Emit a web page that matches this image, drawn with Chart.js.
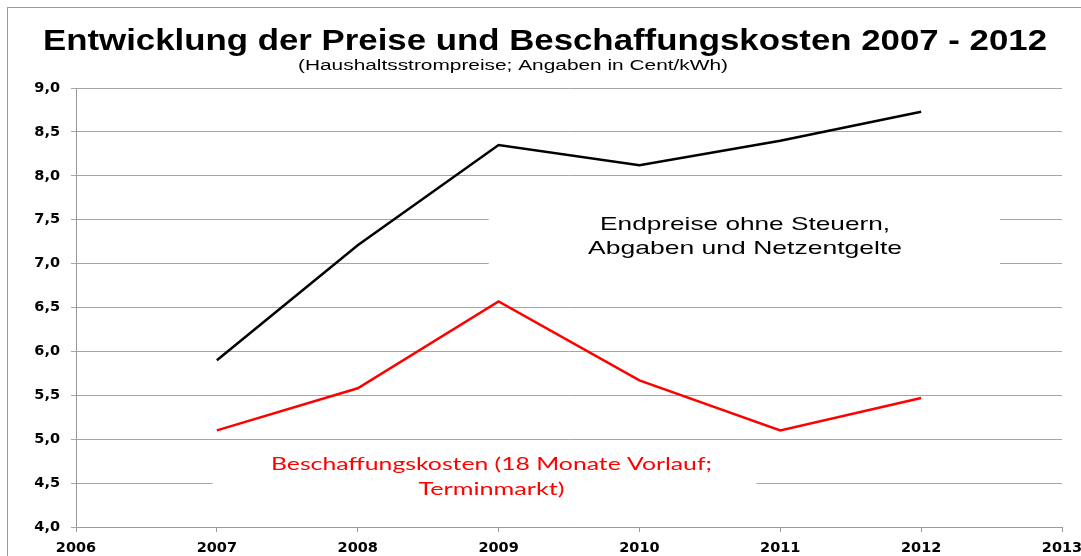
<!DOCTYPE html>
<html>
<head>
<meta charset="utf-8">
<script src="https://cdn.jsdelivr.net/npm/chart.js@4/dist/chart.umd.min.js"></script>
<style>
  html, body { margin: 0; padding: 0; background: #fff; }
  #wrap { width: 1081px; height: 556px; position: relative; }
</style>
</head>
<body>
<div id="wrap"><canvas id="chart" width="1081" height="556"></canvas></div>
<script>
// Daten (Cent/kWh)
var jahre = [2007, 2008, 2009, 2010, 2011, 2012];
var endpreise = [5.90, 7.21, 8.35, 8.12, 8.40, 8.73];
var beschaffung = [5.10, 5.58, 6.57, 5.67, 5.10, 5.47];
var yTicks = [4.0, 4.5, 5.0, 5.5, 6.0, 6.5, 7.0, 7.5, 8.0, 8.5, 9.0];
var xTicks = [2006, 2007, 2008, 2009, 2010, 2011, 2012, 2013];

var titel = 'Entwicklung der Preise und Beschaffungskosten 2007 - 2012';
var untertitel = '(Haushaltsstrompreise; Angaben in Cent/kWh)';

function punkte(werte) {
    return jahre.map(function(j, i) { return { x: j, y: werte[i] }; });
}

// Text horizontal auf eine Breite strecken (das Original ist breit gezogen)
function textBreit(ctx, text, cx, cy, breite) {
    var w = ctx.measureText(text).width;
    var sx = breite / w;
    ctx.save();
    ctx.translate(cx, cy);
    ctx.scale(sx, 1);
    ctx.fillText(text, 0, 0);
    ctx.restore();
}

// Textfelder im Diagramm (Position in Achsenwerten)
var beschriftungen = [
    { box: [2008.93, 2012.56, 7.72, 6.70], color: '#000000', font: '19px "Liberation Sans", Arial, sans-serif',
      zeilen: [ { t: 'Endpreise ohne Steuern,', x: 2010.75, y: 7.44, w: 290 },
                { t: 'Abgaben und Netzentgelte', x: 2010.75, y: 7.17, w: 314 } ] },
    { box: [2006.97, 2010.83, 4.90, 4.14], color: '#ff0000', font: '18px Lato, sans-serif',
      zeilen: [ { t: 'Beschaffungskosten (18 Monate Vorlauf;', x: 2008.95, y: 4.72, w: 441 },
                { t: 'Terminmarkt)', x: 2008.95, y: 4.43, w: 146 } ] }
];

var rahmenPlugin = {
    id: 'rahmen',
    beforeDraw: function(chart) {
        var ctx = chart.ctx;
        ctx.save();
        ctx.fillStyle = '#fff';
        ctx.fillRect(0, 0, chart.width, chart.height);
        ctx.strokeStyle = '#9a9a9a';
        ctx.lineWidth = 1;
        ctx.strokeRect(7.5, 7.5, 1200, 700);
        ctx.fillStyle = '#000';
        ctx.textAlign = 'center';
        ctx.textBaseline = 'alphabetic';
        ctx.font = 'bold 29px "Liberation Sans", Arial, sans-serif';
        textBreit(ctx, titel, 545, 50, 1004);
        ctx.font = '14px "Liberation Sans", Arial, sans-serif';
        textBreit(ctx, untertitel, 513, 70, 430);
        ctx.restore();
    },
    beforeDatasetsDraw: function(chart) {
        var ctx = chart.ctx;
        var xs = chart.scales.x, ys = chart.scales.y;
        ctx.save();
        beschriftungen.forEach(function(b) {
            var x1 = xs.getPixelForValue(b.box[0]), x2 = xs.getPixelForValue(b.box[1]);
            var y1 = ys.getPixelForValue(b.box[2]), y2 = ys.getPixelForValue(b.box[3]);
            ctx.fillStyle = '#fff';
            ctx.fillRect(x1, y1, x2 - x1, y2 - y1);
            ctx.fillStyle = b.color;
            ctx.font = b.font;
            ctx.textAlign = 'center';
            ctx.textBaseline = 'middle';
            b.zeilen.forEach(function(z) {
                textBreit(ctx, z.t, xs.getPixelForValue(z.x), ys.getPixelForValue(z.y), z.w);
            });
        });
        ctx.restore();
    }
};

var ctx = document.getElementById('chart').getContext('2d');
var tickFont = { family: '"DejaVu Sans", Verdana, sans-serif', size: 14.5, weight: 'bold' };

new Chart(ctx, {
    type: 'scatter',
    data: {
        datasets: [{
            label: 'Endpreise ohne Steuern, Abgaben und Netzentgelte',
            data: punkte(endpreise),
            showLine: true,
            borderColor: '#000000',
            backgroundColor: '#000000',
            borderWidth: 2.5,
            pointRadius: 0,
            tension: 0
        }, {
            label: 'Beschaffungskosten (18 Monate Vorlauf; Terminmarkt)',
            data: punkte(beschaffung),
            showLine: true,
            borderColor: '#ff0000',
            backgroundColor: '#ff0000',
            borderWidth: 2.5,
            pointRadius: 0,
            tension: 0
        }]
    },
    options: {
        responsive: false,
        animation: false,
        layout: { padding: { top: 88, right: 19, left: 18, bottom: 0 } },
        plugins: { legend: { display: false }, tooltip: { enabled: false } },
        scales: {
            x: {
                type: 'linear',
                min: 2006, max: 2013,
                afterBuildTicks: function(s) { s.ticks = xTicks.map(function(v) { return { value: v }; }); },
                afterFit: function(s) { s.height = 29; s.paddingLeft = 0; s.paddingRight = 0; },
                ticks: { color: '#000', font: tickFont, padding: 8, maxRotation: 0,
                         callback: function(v) { return String(v); } },
                grid: { display: true, drawOnChartArea: false, drawTicks: true, tickLength: 5, color: '#9a9a9a' },
                border: { color: '#9a9a9a', width: 1 }
            },
            y: {
                min: 4, max: 9,
                afterBuildTicks: function(s) { s.ticks = yTicks.map(function(v) { return { value: v }; }); },
                afterFit: function(s) { s.width = 58; s.paddingTop = 0; s.paddingBottom = 0; },
                ticks: { color: '#000', font: tickFont, padding: 11,
                         callback: function(v) { return v.toFixed(1).replace('.', ','); } },
                grid: { color: '#a6a6a6', lineWidth: 1, tickLength: 5 },
                border: { color: '#9a9a9a', width: 1 }
            }
        }
    },
    plugins: [rahmenPlugin]
});
</script>
</body>
</html>
